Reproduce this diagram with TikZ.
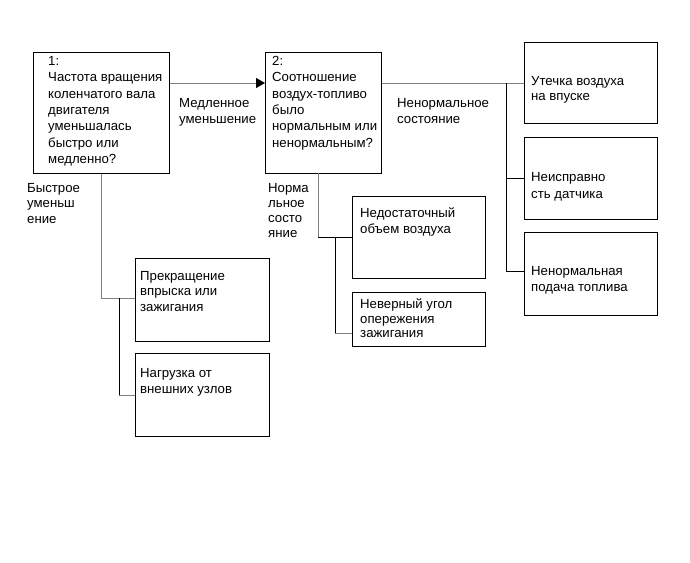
\documentclass[tikz,border=0pt]{standalone}
\usepackage{fontspec}
\setmainfont{Liberation Sans}
\usetikzlibrary{arrows.meta}
\newcommand{\mlines}[1]{\begin{tabular}[t]{@{}l@{}}#1\end{tabular}}
\begin{document}
\begin{tikzpicture}[x=1pt,y=-1pt,
  box/.style={draw,line width=1.3pt,inner sep=0pt,anchor=north west},
  txt/.style={anchor=base west,inner sep=0pt,font=\fontsize{13.2}{#1}\selectfont},
  txt/.default=16.3,
  conn/.style={draw=black!50,line width=0.8pt},
  connd/.style={draw=black,line width=0.7pt}]
\useasboundingbox (0,0) rectangle (690,562);
% boxes
\node[box,minimum width=136,minimum height=121] (b1) at (33,52) {};
\node[box,minimum width=116,minimum height=121] (b2) at (265,52) {};
\node[box,minimum width=133,minimum height=81] (bA) at (524,42) {};
\node[box,minimum width=133,minimum height=82] (bB) at (524,137) {};
\node[box,minimum width=133,minimum height=83] (bC) at (524,232) {};
\node[box,minimum width=133,minimum height=82] (bD) at (352,196) {};
\node[box,minimum width=133,minimum height=54] (bE) at (352,292) {};
\node[box,minimum width=134,minimum height=83] (bP) at (135,258) {};
\node[box,minimum width=134,minimum height=83] (bN) at (135,353) {};
% texts
\node[txt] (t1) at (48,65.5) {\mlines{1:\\Частота вращения\\коленчатого вала\\двигателя\\уменьшалась\\быстро или\\медленно?}};
\node[txt] (t2) at (272,65.5) {\mlines{2:\\Соотношение\\воздух-топливо\\было\\нормальным или\\ненормальным?}};
\node[txt=15] (tA) at (531,85) {\mlines{Утечка воздуха\\на впуске}};
\node[txt=16.5] (tB) at (531,181.5) {\mlines{Неисправно\\сть датчика}};
\node[txt=16.5] (tC) at (531,275) {\mlines{Ненормальная\\подача топлива}};
\node[txt=16] (tD) at (360,217) {\mlines{Недостаточный\\объем воздуха}};
\node[txt=14.7] (tE) at (360,308.5) {\mlines{Неверный угол\\опережения\\зажигания}};
\node[txt=15.7] (tP) at (140,280) {\mlines{Прекращение\\впрыска или\\зажигания}};
\node[txt=16.5] (tN) at (140,377) {\mlines{Нагрузка от\\внешних узлов}};
% edge labels
\node[txt=16.6] (l12) at (179,107) {\mlines{Медленное\\уменьшение}};
\node[txt=16] (l2r) at (397,107) {\mlines{Ненормальное\\состояние}};
\node[txt=15.7] (l1d) at (27,192) {\mlines{Быстрое\\уменьш\\ение}};
\node[txt=15] (l2d) at (268,192) {\mlines{Норма\\льное\\состо\\яние}};
% junction coordinates
\coordinate (m1) at (0,83);
\coordinate (j2) at (506,83);
\coordinate (cC) at (524,271);
\coordinate (d1) at (0,298);
\coordinate (v1) at (119,298);
\coordinate (s2) at (318,173);
\coordinate (d2) at (318,237);
\coordinate (v2) at (335,237);
\coordinate (e2) at (352,333);
% connectors
\draw[conn,-{Triangle[length=9pt,width=10pt,color=black]}] (b1.east |- m1) -- (b2.west |- m1);
\draw[conn] (b2.east |- m1) -- (bA.west |- m1);
\draw[connd] (j2) -- (j2 |- cC) -- (cC);
\draw[connd] (j2 |- bB.west) -- (bB.west);
\draw[conn] (b1.south) -- (b1.south |- d1) -- (bP.west |- d1);
\draw[connd] (v1) -- (v1 |- bN.west);
\draw[conn] (v1 |- bN.west) -- (bN.west);
\draw[conn] (s2) -- (d2);
\draw[connd] (d2) -- (bD.west |- d2);
\draw[connd] (v2) -- (v2 |- e2);
\draw[conn] (v2 |- e2) -- (e2);
\end{tikzpicture}
\end{document}
